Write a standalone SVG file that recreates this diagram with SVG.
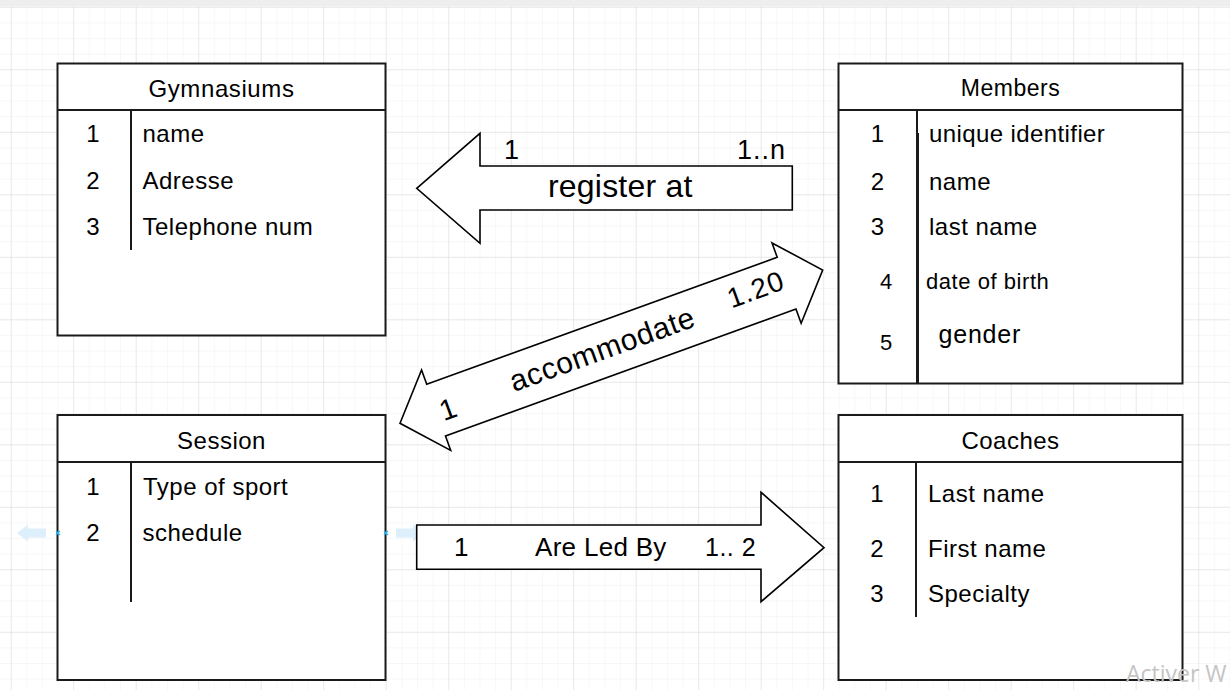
<svg xmlns="http://www.w3.org/2000/svg" width="1230" height="690" viewBox="0 0 1230 690">
<style>
.box{fill:#fff;stroke:#1a1a1a;stroke-width:2}
.ln{stroke:#1a1a1a;stroke-width:2;fill:none}
.t{font-family:"Liberation Sans",Arial,sans-serif;fill:#000;letter-spacing:0.5px}
.h{font-size:24px;text-anchor:middle}
.r{font-size:24px}
.n{font-size:24px;text-anchor:middle;letter-spacing:0}
.arr{fill:#fff;stroke:#000;stroke-width:1.6;stroke-linejoin:miter}
.hov{fill:#dceffb}
.hx{stroke:#29b6f2;stroke-width:1.2}
</style>
<defs>
<pattern id="minor" width="15.625" height="15.625" patternUnits="userSpaceOnUse" x="10.7" y="6.8">
<path d="M0 0 H15.625 M0 0 V15.625" stroke="#efefef" stroke-width="1" fill="none"/>
</pattern>
<pattern id="major" width="62.5" height="62.5" patternUnits="userSpaceOnUse" x="10.7" y="6.8">
<path d="M0 0 H62.5 M0 0 V62.5" stroke="#dcdcdc" stroke-width="1" fill="none"/>
</pattern>
</defs>
<rect width="1230" height="690" fill="#fff"/>
<rect width="1230" height="690" fill="url(#minor)"/>
<rect width="1230" height="690" fill="url(#major)"/>
<rect x="0" y="0" width="1230" height="6.5" fill="#eeeeee"/>

<g id="gymnasiums">
<rect class="box" x="57.5" y="63.5" width="328" height="272"/>
<line class="ln" x1="57.5" y1="110" x2="385.5" y2="110"/>
<line class="ln" x1="131" y1="110" x2="131" y2="250"/>
<text class="t h" x="221.5" y="97" style="letter-spacing:0.6px">Gymnasiums</text>
<text class="t n" x="93" y="142">1</text>
<text class="t r" x="142.5" y="142">name</text>
<text class="t n" x="93" y="189">2</text>
<text class="t r" x="142.5" y="189">Adresse</text>
<text class="t n" x="93" y="235">3</text>
<text class="t r" x="142.5" y="235">Telephone num</text>
</g>

<g id="members">
<rect class="box" x="838.5" y="63.5" width="344" height="320"/>
<line class="ln" x1="838.5" y1="110" x2="1182.5" y2="110"/>
<line class="ln" x1="917" y1="110" x2="917" y2="383"/>
<line stroke="#1a1a1a" stroke-width="3" x1="917.5" y1="133" x2="917.5" y2="383"/>
<text class="t h" x="1010.5" y="96" style="font-size:23px">Members</text>
<text class="t n" x="877.5" y="142">1</text>
<text class="t r" x="929" y="142" style="letter-spacing:0.4px">unique identifier</text>
<text class="t n" x="877.5" y="190">2</text>
<text class="t r" x="929" y="190">name</text>
<text class="t n" x="877.5" y="235">3</text>
<text class="t r" x="929" y="235">last name</text>
<text class="t n" x="886" y="289" style="font-size:22px">4</text>
<text class="t r" x="926" y="289" style="font-size:22px;letter-spacing:0.55px">date of birth</text>
<text class="t n" x="886" y="350" style="font-size:22px">5</text>
<text class="t r" x="938.5" y="343" style="font-size:25px;letter-spacing:0.8px">gender</text>
</g>

<g id="session">
<rect class="box" x="57.5" y="415" width="328" height="265"/>
<line class="ln" x1="57.5" y1="462" x2="385.5" y2="462"/>
<line class="ln" x1="131" y1="462" x2="131" y2="602"/>
<text class="t h" x="221.5" y="449">Session</text>
<text class="t n" x="93" y="495">1</text>
<text class="t r" x="143" y="495">Type of sport</text>
<text class="t n" x="93" y="541">2</text>
<text class="t r" x="142.5" y="541">schedule</text>
<path class="hov" d="M17 533 L28 524.5 V528.5 H46 V537.5 H28 V541.5 Z"/>
<path class="hx" d="M56 531 L60 535 M60 531 L56 535"/>
<path class="hov" d="M424 533 L413 524.5 V528.5 H396 V537.5 H413 V541.5 Z"/>
<path class="hx" d="M384 531 L388 535 M388 531 L384 535"/>
</g>

<g id="coaches">
<rect class="box" x="838.5" y="415" width="344" height="265"/>
<line class="ln" x1="838.5" y1="462" x2="1182.5" y2="462"/>
<line class="ln" x1="916" y1="462" x2="916" y2="617"/>
<text class="t h" x="1010.5" y="449">Coaches</text>
<text class="t n" x="877" y="502">1</text>
<text class="t r" x="928" y="502">Last name</text>
<text class="t n" x="877" y="557">2</text>
<text class="t r" x="928" y="557">First name</text>
<text class="t n" x="877" y="602">3</text>
<text class="t r" x="928" y="602">Specialty</text>
</g>

<g id="connectors">
<g id="register-at">
<polygon class="arr" points="416.7,188.3 480,133.3 480,166 792.3,166 792.3,210 480,210 480,243.3"/>
<text class="t" x="511.5" y="159" style="font-size:27px;text-anchor:middle;letter-spacing:0">1</text>
<text class="t" x="737" y="159" style="font-size:27px;letter-spacing:1px">1..n</text>
<text class="t" x="548" y="197" style="font-size:32px;letter-spacing:0.2px">register at</text>
</g>
<g id="accommodate" transform="translate(611.35,346.65) rotate(-19.93)">
<polygon class="arr" points="-224.8,0 -186.4,-42.7 -186.4,-27.5 186.4,-27.5 186.4,-42.7 224.8,0 186.4,42.7 186.4,27.5 -186.4,27.5 -186.4,42.7"/>
<text class="t" x="-183" y="13" style="font-size:29px">1</text>
<text class="t" x="-107" y="9.5" style="font-size:30px;letter-spacing:0.6px">accommodate</text>
<text class="t" x="126" y="5" style="font-size:28px;letter-spacing:1px">1.20</text>
</g>
<g id="are-led-by">
<polygon class="arr" points="416.7,525 761,525 761,492.3 824,547.7 761,601.7 761,569.3 416.7,569.3"/>
<text class="t" x="454" y="556" style="font-size:26px">1</text>
<text class="t" x="535" y="556" style="font-size:26px;letter-spacing:0.3px">Are Led By</text>
<text class="t" x="705" y="556" style="font-size:25px">1.. 2</text>
</g>
</g>

<text x="1126" y="682" style="font-family:'Open Sans','Noto Sans',sans-serif;font-size:23px;fill:#c4c4c4">Activer W</text>
</svg>
